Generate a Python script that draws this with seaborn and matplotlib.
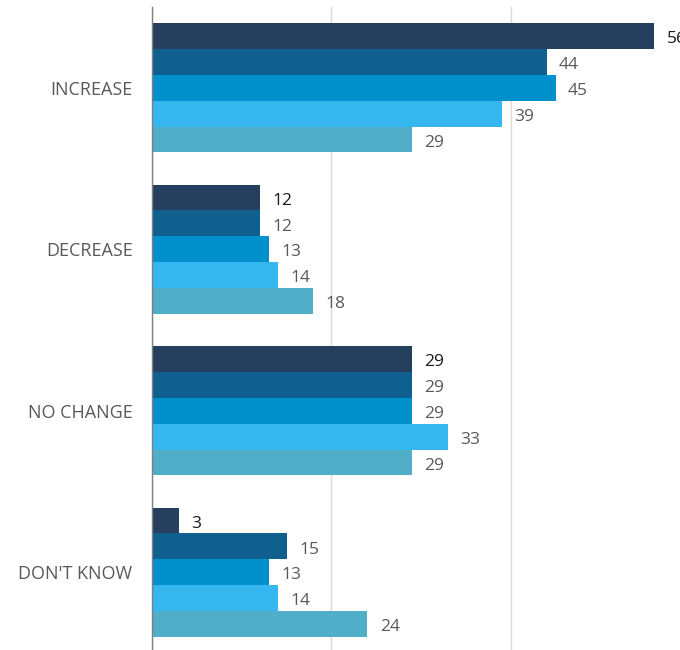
import matplotlib
matplotlib.use("Agg")
import matplotlib.pyplot as plt
import seaborn as sns
import pandas as pd

categories = ["INCREASE", "DECREASE", "NO CHANGE", "DON'T KNOW"]
series = ["S1", "S2", "S3", "S4", "S5"]
s1 = [56, 12, 29, 3]
s2 = [44, 12, 29, 15]
s3 = [45, 13, 29, 13]
s4 = [39, 14, 33, 14]
s5 = [29, 18, 29, 24]
colors = ["#253f5f", "#0f5f8f", "#0090cc", "#36b6ee", "#50aec8"]
label_colors = ["#1a1a1a", "#595959", "#595959", "#595959", "#595959"]

rows = []
for name, vals in zip(series, [s1, s2, s3, s4, s5]):
    for c, v in zip(categories, vals):
        rows.append({"category": c, "series": name, "value": v})
df = pd.DataFrame(rows)

sns.set_style("white")
plt.rcParams["font.family"] = ["Open Sans", "DejaVu Sans"]

fig = plt.figure(figsize=(6.8, 6.5), dpi=100)
ax = fig.add_axes([152 / 680, -3 / 650, (690 - 152) / 680, 646 / 650])
sns.barplot(data=df, x="value", y="category", hue="series", order=categories,
            hue_order=series, palette=colors, orient="h", width=0.8,
            linewidth=0, saturation=1, ax=ax, legend=False)

for cont, lc in zip(ax.containers, label_colors):
    texts = ax.bar_label(cont, padding=9, fontsize=12.5, color=lc)
    for t in texts:
        t.set_va("center")
        dx, dy = t.xyann
        t.xyann = (dx, dy - 2.3)

ax.set_xlim(0, 60)
ax.set_ylim(3.5, -0.5)
ax.set_xticks([0, 20, 40, 60])
ax.set_xticklabels([])
ax.tick_params(axis="x", length=0)
ax.tick_params(axis="y", length=0, labelsize=13, labelcolor="#595959", pad=14)
ax.grid(axis="x", color="#d9d9d9", linewidth=1)
ax.set_axisbelow(True)
ax.set_xlabel("")
ax.set_ylabel("")
for s in ["top", "right", "bottom"]:
    ax.spines[s].set_visible(False)
ax.spines["left"].set_color("#808080")
ax.spines["left"].set_linewidth(1)

fig.savefig("out.png", dpi=100)
